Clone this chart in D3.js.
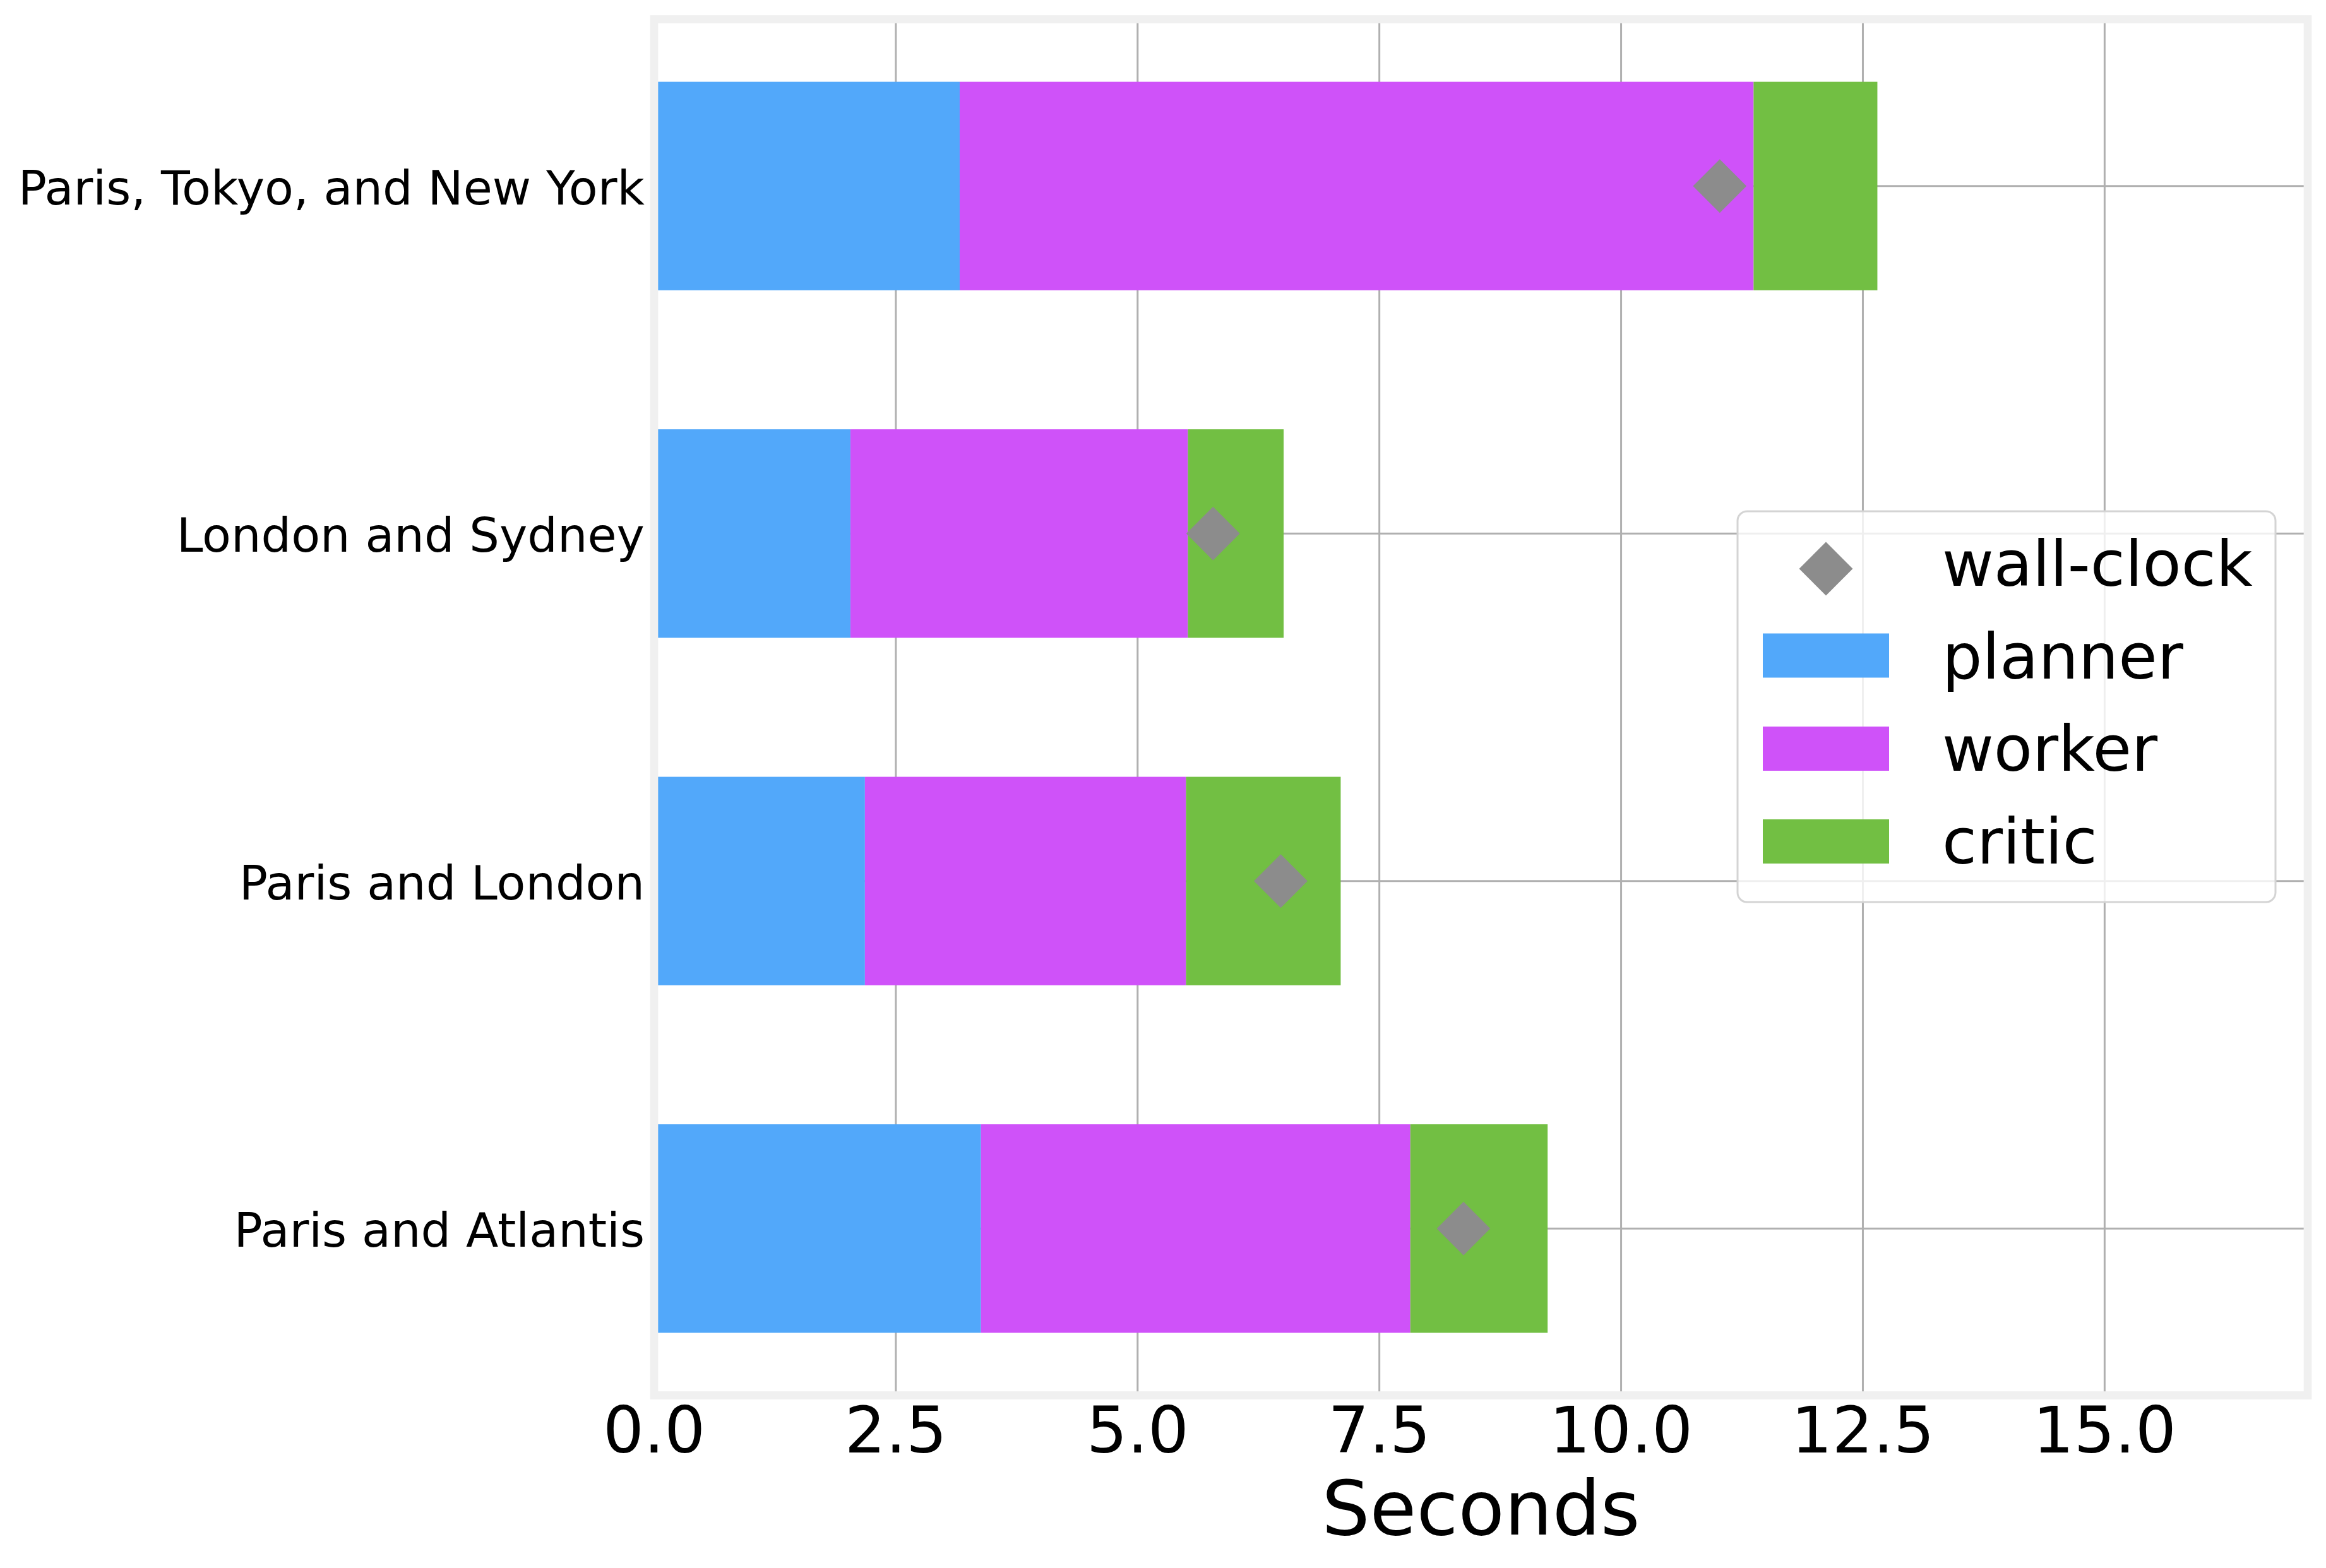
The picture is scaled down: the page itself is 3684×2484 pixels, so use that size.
<!DOCTYPE html>
<html lang="en">
<head>
    <meta charset="UTF-8">
    <title>Stage timings</title>
    <script src="https://d3js.org/d3.v7.min.js"></script>
    <style>
        body {
            margin: 0;
            background: #fff;
        }
        svg text {
            font-family: "DejaVu Sans", sans-serif;
            fill: #000;
        }
        .grid line {
            stroke: #b0b0b0;
            stroke-width: 3px;
        }
    </style>
</head>
<body>

<svg width="3684" height="2484"></svg>

<script>
    // categories listed top to bottom
    const categories = ["Paris, Tokyo, and New York", "London and Sydney", "Paris and London", "Paris and Atlantis"];

    // seconds spent in each stage (stacked left to right)
    const planner = [3.16, 2.03, 2.18, 3.38];
    const worker  = [8.21, 3.49, 3.32, 4.44];
    const critic  = [1.28, 0.99, 1.60, 1.42];
    const wallClock = [11.02, 5.78, 6.48, 8.37];

    const xTicks = [0, 2.5, 5, 7.5, 10, 12.5, 15];

    const stages = [
        {name: "planner", values: planner, color: "#52a8fa"},
        {name: "worker",  values: worker,  color: "#cf52f9"},
        {name: "critic",  values: critic,  color: "#72bf43"}
    ];

    const svg = d3.select("svg");

    const plot = {left: 1036, right: 3655, top: 30.5, bottom: 2210.5};

    const x = d3.scaleLinear()
        .domain([0, 17.1])
        .range([plot.left, plot.right]);

    // matplotlib puts the first barh at the bottom, so count from the bottom
    const n = categories.length;
    const y = d3.scaleLinear()
        .domain([-0.48, n - 1 + 0.48])
        .range([plot.bottom, plot.top]);
    const yPos = i => y(n - 1 - i);
    const barH = y(0) - y(0.6);

    // grid
    const grid = svg.append("g").attr("class", "grid");
    grid.selectAll(".vgrid")
        .data(xTicks)
        .enter().append("line")
          .attr("x1", d => x(d)).attr("x2", d => x(d))
          .attr("y1", plot.top).attr("y2", plot.bottom);
    grid.selectAll(".hgrid")
        .data(categories)
        .enter().append("line")
          .attr("x1", plot.left).attr("x2", plot.right)
          .attr("y1", (d, i) => yPos(i)).attr("y2", (d, i) => yPos(i));

    // stacked bars
    const rows = categories.map((c, i) => {
        let start = 0;
        return stages.map(s => {
            const seg = {row: i, x0: start, x1: start + s.values[i], color: s.color};
            start += s.values[i];
            return seg;
        });
    }).flat();

    svg.append("g").selectAll("rect")
        .data(rows)
        .enter().append("rect")
          .attr("x", d => x(d.x0))
          .attr("width", d => x(d.x1) - x(d.x0))
          .attr("y", d => yPos(d.row) - barH / 2)
          .attr("height", barH)
          .attr("fill", d => d.color);

    // wall-clock markers
    const diamond = d3.symbol().type(d3.symbolSquare).size(3600);
    svg.append("g").selectAll("path")
        .data(wallClock)
        .enter().append("path")
          .attr("d", diamond)
          .attr("transform", (d, i) => `translate(${x(d)},${yPos(i)}) rotate(45)`)
          .attr("fill", "#8c8c8c");

    // frame
    svg.append("rect")
        .attr("x", plot.left)
        .attr("y", plot.top)
        .attr("width", plot.right - plot.left)
        .attr("height", plot.bottom - plot.top)
        .attr("fill", "none")
        .attr("stroke", "#f0f0f0")
        .attr("stroke-width", 12.7);

    // x tick labels
    svg.append("g").selectAll("text")
        .data(xTicks)
        .enter().append("text")
          .attr("x", d => x(d))
          .attr("y", 2301)
          .attr("text-anchor", "middle")
          .style("font-size", "102px")
          .text(d => d3.format(".1f")(d));

    svg.append("text")
        .attr("x", (plot.left + plot.right) / 2)
        .attr("y", 2431)
        .attr("text-anchor", "middle")
        .style("font-size", "120px")
        .text("Seconds");

    // y tick labels
    svg.append("g").selectAll("text")
        .data(categories)
        .enter().append("text")
          .attr("x", 1021)
          .attr("y", (d, i) => yPos(i) + 29)
          .attr("text-anchor", "end")
          .style("font-size", "75px")
          .text(d => d);

    // legend
    const legend = svg.append("g");
    legend.append("rect")
        .attr("x", 2752).attr("y", 810)
        .attr("width", 852).attr("height", 619)
        .attr("rx", 15).attr("ry", 15)
        .attr("fill", "#fff")
        .attr("fill-opacity", 0.8)
        .attr("stroke", "#d4d4d4")
        .attr("stroke-width", 3);

    const legendItems = [{name: "wall-clock", color: "#8c8c8c", marker: true}]
        .concat(stages.map(s => ({name: s.name, color: s.color})));
    const handleY = [901, 1038.5, 1186, 1333];
    const labelY = [927.5, 1075, 1221, 1368];

    const item = legend.selectAll(".item")
        .data(legendItems)
        .enter().append("g");

    item.filter(d => d.marker).append("path")
        .attr("d", diamond)
        .attr("transform", `translate(2892,${handleY[0]}) rotate(45)`)
        .attr("fill", d => d.color);
    item.filter(d => !d.marker).append("rect")
        .attr("x", 2792)
        .attr("y", (d, i) => handleY[i + 1] - 35)
        .attr("width", 200).attr("height", 70)
        .attr("fill", d => d.color);
    item.append("text")
        .attr("x", 3076)
        .attr("y", (d, i) => labelY[i])
        .style("font-size", "100px")
        .text(d => d.name);
</script>

</body>
</html>
